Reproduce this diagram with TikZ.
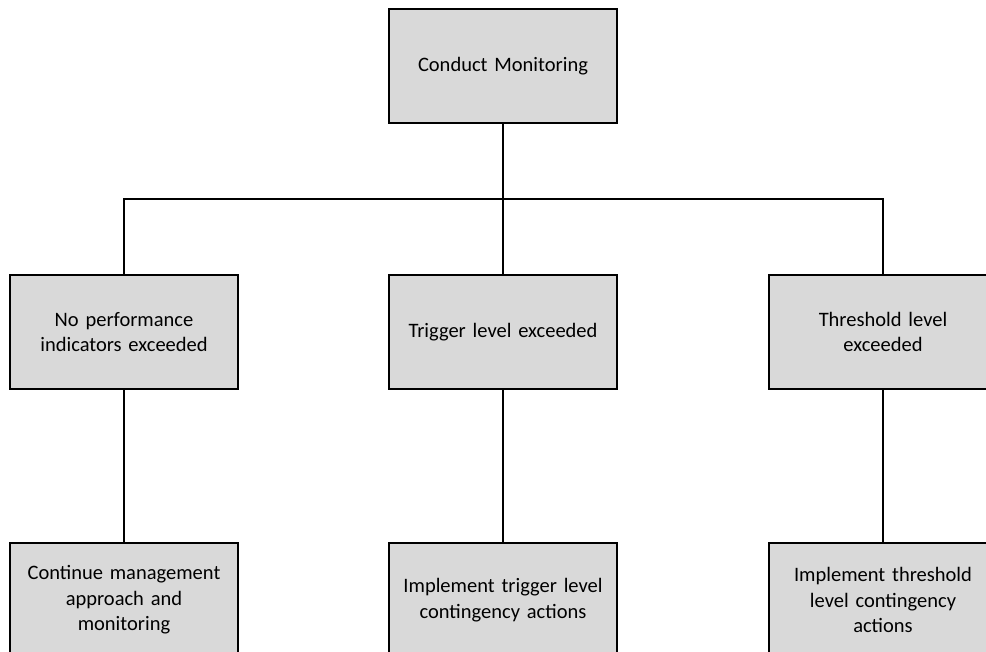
\documentclass[tikz,border=0pt]{standalone}
\usepackage{fontspec}
\setmainfont{Carlito}
\begin{document}
\begin{tikzpicture}[x=1pt,y=1pt,
  box/.style={draw=black,fill=boxgray,line width=1.5pt,minimum width=228pt,minimum height=114pt,
    text width=200pt,align=center,inner sep=0pt,font=\fontsize{20.5}{25.5}\selectfont},
  conn/.style={draw=black,line width=1.5pt}]
\definecolor{boxgray}{HTML}{D9D9D9}
\useasboundingbox (0,0) rectangle (986,-652);
\clip (0,0) rectangle (986,-652);
\node[box] (top) at (503,-66) {Conduct Monitoring};
\node[box] (m1) at (124,-332) {No performance\\indicators exceeded};
\node[box] (m2) at (503,-332) {Trigger level exceeded};
\node[box] (m3) at (883,-332) {Threshold level\\exceeded};
\node[box] (b1) at (124,-600) {Continue management\\approach and\\monitoring};
\node[box] (b2) at (503,-600) {Implement trigger level\\contingency actions};
\node[box] (b3) at (883,-600) {Implement threshold\\level contingency\\actions};
\coordinate (j) at (503,-199);
\draw[conn] (top.south) -- (j);
\draw[conn] (m1.north) |- (j);
\draw[conn] (j) -| (m3.north);
\draw[conn] (j) -- (m2.north);
\draw[conn] (m1.south) -- (b1.north);
\draw[conn] (m2.south) -- (b2.north);
\draw[conn] (m3.south) -- (b3.north);
\end{tikzpicture}
\end{document}
